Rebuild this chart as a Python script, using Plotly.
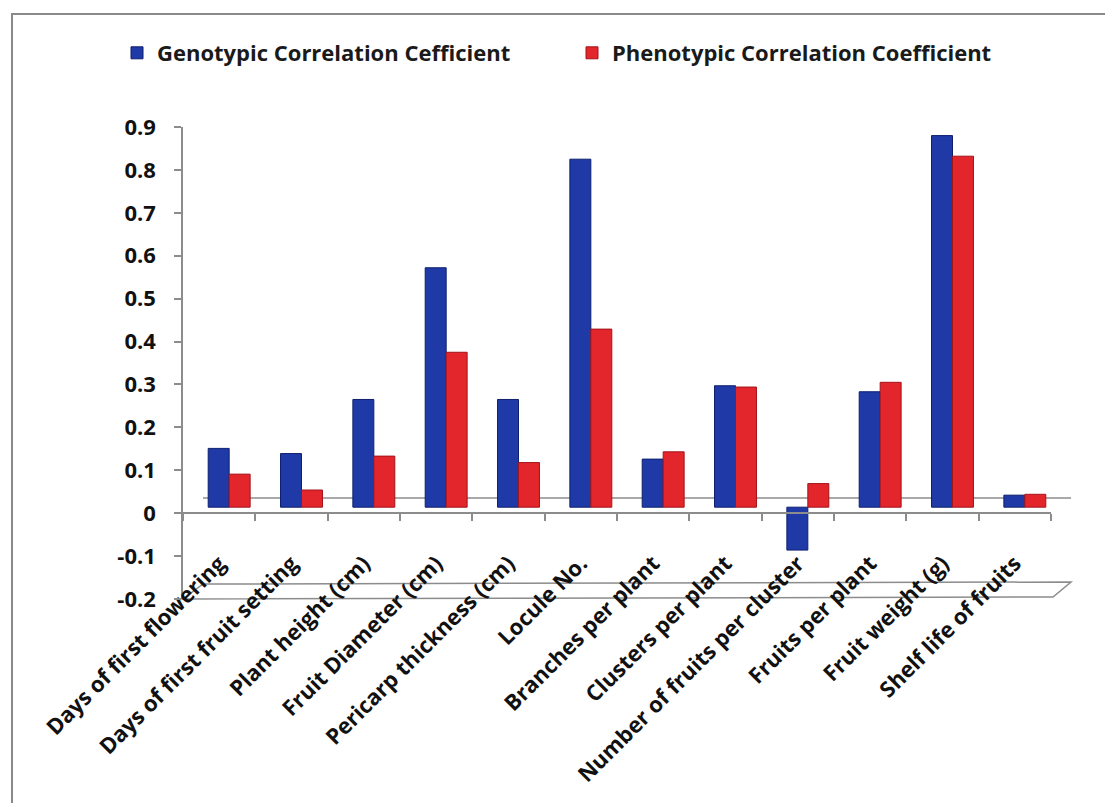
import plotly.graph_objects as go

# Traits and correlation coefficients
traits = [
    "Days of first flowering",
    "Days of first fruit setting",
    "Plant height (cm)",
    "Fruit Diameter (cm)",
    "Pericarp thickness (cm)",
    "Locule No.",
    "Branches per plant",
    "Clusters per plant",
    "Number of fruits per cluster",
    "Fruits per plant",
    "Fruit weight (g)",
    "Shelf life of fruits",
]
genotypic = [0.137, 0.125, 0.251, 0.558, 0.251, 0.811, 0.112, 0.283, -0.100, 0.269, 0.866, 0.028]
phenotypic = [0.077, 0.040, 0.119, 0.361, 0.104, 0.415, 0.129, 0.280, 0.055, 0.291, 0.818, 0.030]

series_names = ["Genotypic Correlation Cefficient", "Phenotypic Correlation Coefficient"]
y_ticks = [-0.2, -0.1, 0, 0.1, 0.2, 0.3, 0.4, 0.5, 0.6, 0.7, 0.8, 0.9]
y_labels = ["-0.2", "-0.1", "0", "0.1", "0.2", "0.3", "0.4", "0.5", "0.6", "0.7", "0.8", "0.9"]

W, H = 1105, 803
L, R, T, B = 183, 54, 127, 204
PW, PH = W - L - R, H - T - B
Y0, Y1 = -0.2, 0.9
px_per_unit = PH / (Y1 - Y0)
px_per_cat = PW / len(traits)

# depth offset of the bar row behind the front axis plane
DX, DY = 10, 6


def px(x):
    return (x - L) / PW


def py(y):
    return (H - B - y) / PH


FONT = "Open Sans"
fig = go.Figure()
# empty trace so the front (labelled) axes are built
fig.add_trace(go.Scatter(x=[], y=[], xaxis="x", yaxis="y", showlegend=False, hoverinfo="skip"))
fig.add_trace(go.Bar(
    x=traits, y=genotypic, name=series_names[0], xaxis="x2", yaxis="y2",
    marker=dict(color="#1f3aa6", line=dict(color="#0e1f6e", width=1)),
))
fig.add_trace(go.Bar(
    x=traits, y=phenotypic, name=series_names[1], xaxis="x2", yaxis="y2",
    marker=dict(color="#e2262c", line=dict(color="#a3141a", width=1)),
))

shapes = [
    # chart frame
    dict(type="rect", xref="paper", yref="paper", x0=px(12), y0=py(14), x1=px(1112), y1=py(812),
         line=dict(color="#8a8a8a", width=2), layer="below"),
    # back wall zero line
    dict(type="line", xref="paper", yref="paper", x0=px(L + 20), y0=py(498), x1=px(1071), y1=py(498),
         line=dict(color="#8c8c8c", width=1.5), layer="below"),
    # floor at the axis minimum
    dict(type="path", xref="paper", yref="paper",
         path="M {:.5f},{:.5f} L {:.5f},{:.5f} L {:.5f},{:.5f} L {:.5f},{:.5f} Z".format(
             px(L), py(599), px(L + 20), py(584), px(1071), py(582), px(1053), py(597)),
         line=dict(color="#8c8c8c", width=1.5), fillcolor="rgba(255,255,255,0)", layer="below"),
]

fig.update_layout(
    width=W, height=H,
    margin=dict(l=L, r=R, t=T, b=B),
    paper_bgcolor="white", plot_bgcolor="rgba(0,0,0,0)",
    barmode="group", bargap=0.42, bargroupgap=0,
    showlegend=True,
    legend=dict(orientation="h", x=px(117), y=py(53), xanchor="left", yanchor="middle",
                font=dict(family=FONT, size=22, color="#1a1a1a", weight="bold"),
                itemwidth=30, entrywidth=410, entrywidthmode="pixels",
                bgcolor="rgba(0,0,0,0)"),
    xaxis=dict(
        type="category", categoryorder="array", categoryarray=traits,
        range=[-0.5, len(traits) - 0.5],
        anchor="free", position=py(H - B - (0 - Y0) * px_per_unit),
        showline=True, linecolor="#8c8c8c", linewidth=1.5,
        ticks="outside", tickson="boundaries", ticklen=7, tickcolor="#8c8c8c", tickwidth=1.5,
        tickangle=-45, ticklabelstandoff=28,
        tickfont=dict(family=FONT, size=22, color="#111111", weight="bold"),
        showgrid=False, zeroline=False,
    ),
    yaxis=dict(
        range=[Y0, Y1], tickvals=y_ticks, ticktext=y_labels,
        showline=True, linecolor="#8c8c8c", linewidth=1.5,
        ticks="outside", ticklen=7, tickcolor="#8c8c8c", tickwidth=1.5,
        ticklabelstandoff=14,
        tickfont=dict(family=FONT, size=22, color="#111111", weight="bold"),
        showgrid=False, zeroline=False,
    ),
    xaxis2=dict(
        type="category", categoryorder="array", categoryarray=traits,
        overlaying="x", anchor="y2", visible=False,
        range=[-0.5 - DX / px_per_cat, len(traits) - 0.5 - DX / px_per_cat],
    ),
    yaxis2=dict(
        overlaying="y", anchor="x2", visible=False,
        range=[Y0 - DY / px_per_unit, Y1 - DY / px_per_unit],
    ),
    shapes=shapes,
)

fig.write_html("out.html")
